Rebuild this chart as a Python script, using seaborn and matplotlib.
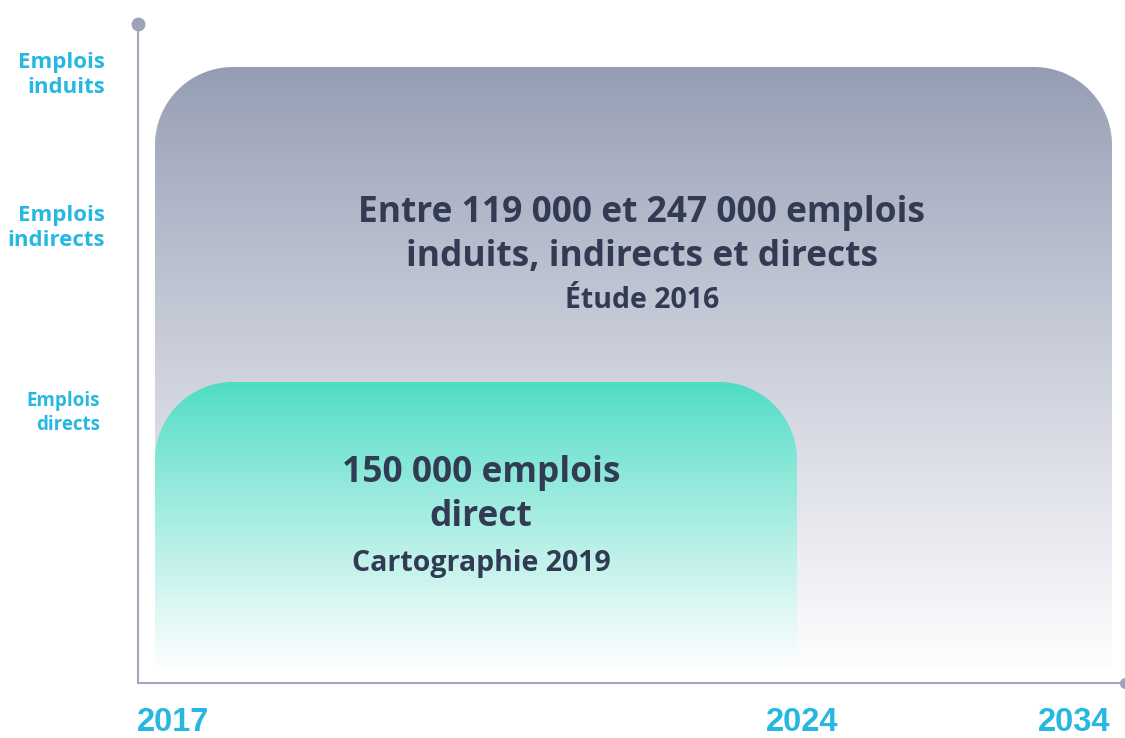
import numpy as np
import matplotlib
matplotlib.use('Agg')
import matplotlib.pyplot as plt
import seaborn as sns
from matplotlib.path import Path
from matplotlib.patches import PathPatch
from matplotlib.colors import to_rgb

# Data
years = [2017, 2024, 2034]
levels = ['Emplois\ndirects', 'Emplois\nindirects', 'Emplois\ninduits']
box_names = ['Étude 2016', 'Cartographie 2019']
box_start = [2017, 2017]
box_end = [2034, 2024]
box_level = ['Emplois\ninduits', 'Emplois\ndirects']
box_titles = ['Entre 119 000 et 247 000 emplois\ninduits, indirects et directs',
              '150 000 emplois\ndirect']

# Layout (axis units: 1 unit = 100 px)
year_x = {2017: 0.17, 2024: 6.59, 2034: 9.74}
level_label_y = {'Emplois\ndirects': 2.70, 'Emplois\nindirects': 4.55, 'Emplois\ninduits': 6.08}
level_label_x = {'Emplois\ndirects': -0.38, 'Emplois\nindirects': -0.33, 'Emplois\ninduits': -0.33}
level_top = {'Emplois\ndirects': 3.01, 'Emplois\ninduits': 6.16}
box_bottom = 0.15
radius = 0.78
box_colors = ['#959db4', '#4ddcc4']
title_pos = [(5.04, 4.48, 3.83), (3.43, 1.88, 1.19)]

navy = '#323b54'
cyan = '#27b8e2'
axis_col = '#a2a8bd'

sns.set_theme(style='white')
plt.rcParams['font.family'] = ['Open Sans', 'DejaVu Sans']

fig = plt.figure(figsize=(11.25, 7.38), dpi=100)
ax = fig.add_axes([138 / 1125, 55 / 738, 987 / 1125, 659 / 738])
ax.set_xlim(0, 9.87)
ax.set_ylim(0, 6.59)
ax.axis('off')


def top_rounded(x0, x1, y0, y1, r):
    pts = [(x0, y0), (x0, y1 - r)]
    a = np.linspace(np.pi, np.pi / 2, 30)
    pts += list(zip(x0 + r + r * np.cos(a), y1 - r + r * np.sin(a)))
    a = np.linspace(np.pi / 2, 0, 30)
    pts += list(zip(x1 - r + r * np.cos(a), y1 - r + r * np.sin(a)))
    pts += [(x1, y0), (x0, y0)]
    codes = [Path.MOVETO] + [Path.LINETO] * (len(pts) - 2) + [Path.CLOSEPOLY]
    return Path(pts, codes)


for i, name in enumerate(box_names):
    x0 = year_x[box_start[i]]
    x1 = year_x[box_end[i]]
    y1 = level_top[box_level[i]]
    path = top_rounded(x0, x1, box_bottom, y1, radius)
    patch = PathPatch(path, facecolor='none', edgecolor='none')
    ax.add_patch(patch)
    c = np.array(to_rgb(box_colors[i]))
    t = np.linspace(0, 1, 256)[:, None] ** 0.9
    grad = c * (1 - t) + np.array([0.995, 0.995, 1.0]) * t
    img = ax.imshow(grad[:, None, :], extent=[x0, x1, box_bottom, y1],
                    origin='upper', aspect='auto', interpolation='bicubic', zorder=1 + i)
    img.set_clip_path(patch)
    tx, ty, sy = title_pos[i]
    ax.text(tx, ty, box_titles[i], ha='center', va='center', fontsize=25.5,
            fontweight='bold', color=navy, linespacing=1.33, zorder=5)
    ax.text(tx, sy, name, ha='center', va='center', fontsize=20.5,
            fontweight='bold', color=navy, zorder=5)

ax.set_xlim(0, 9.87)
ax.set_ylim(0, 6.59)

# axes lines
ax.plot([0, 0], [0, 6.59], color=axis_col, lw=1.5, clip_on=False, zorder=3)
ax.plot([0, 9.87], [0, 0], color=axis_col, lw=1.5, clip_on=False, zorder=3)
ax.plot([0], [6.59], 'o', color='#9ea4b8', ms=9, clip_on=False, zorder=4)
ax.plot([9.87], [0], 'o', color='#9ea4b8', ms=7, clip_on=False, zorder=4)

# y labels
for lv in levels:
    small = lv.split('\n')[1] == 'directs'
    ax.text(level_label_x[lv], level_label_y[lv], lv, ha='right', va='center', ma='right',
            fontsize=13.5 if small else 16, fontweight='bold', color=cyan,
            linespacing=1.26 if small else 1.31)

# year labels
ha_map = {2017: 'left', 2024: 'center', 2034: 'right'}
off = {2017: -0.18, 2024: 0.05, 2034: -0.02}
for y in years:
    ax.text(year_x[y] + off[y], -0.48, str(y), ha=ha_map[y], va='baseline',
            fontsize=23.5, fontweight='bold', color=cyan,
            family=['Liberation Sans', 'DejaVu Sans'])

fig.savefig('out.png', dpi=100)
